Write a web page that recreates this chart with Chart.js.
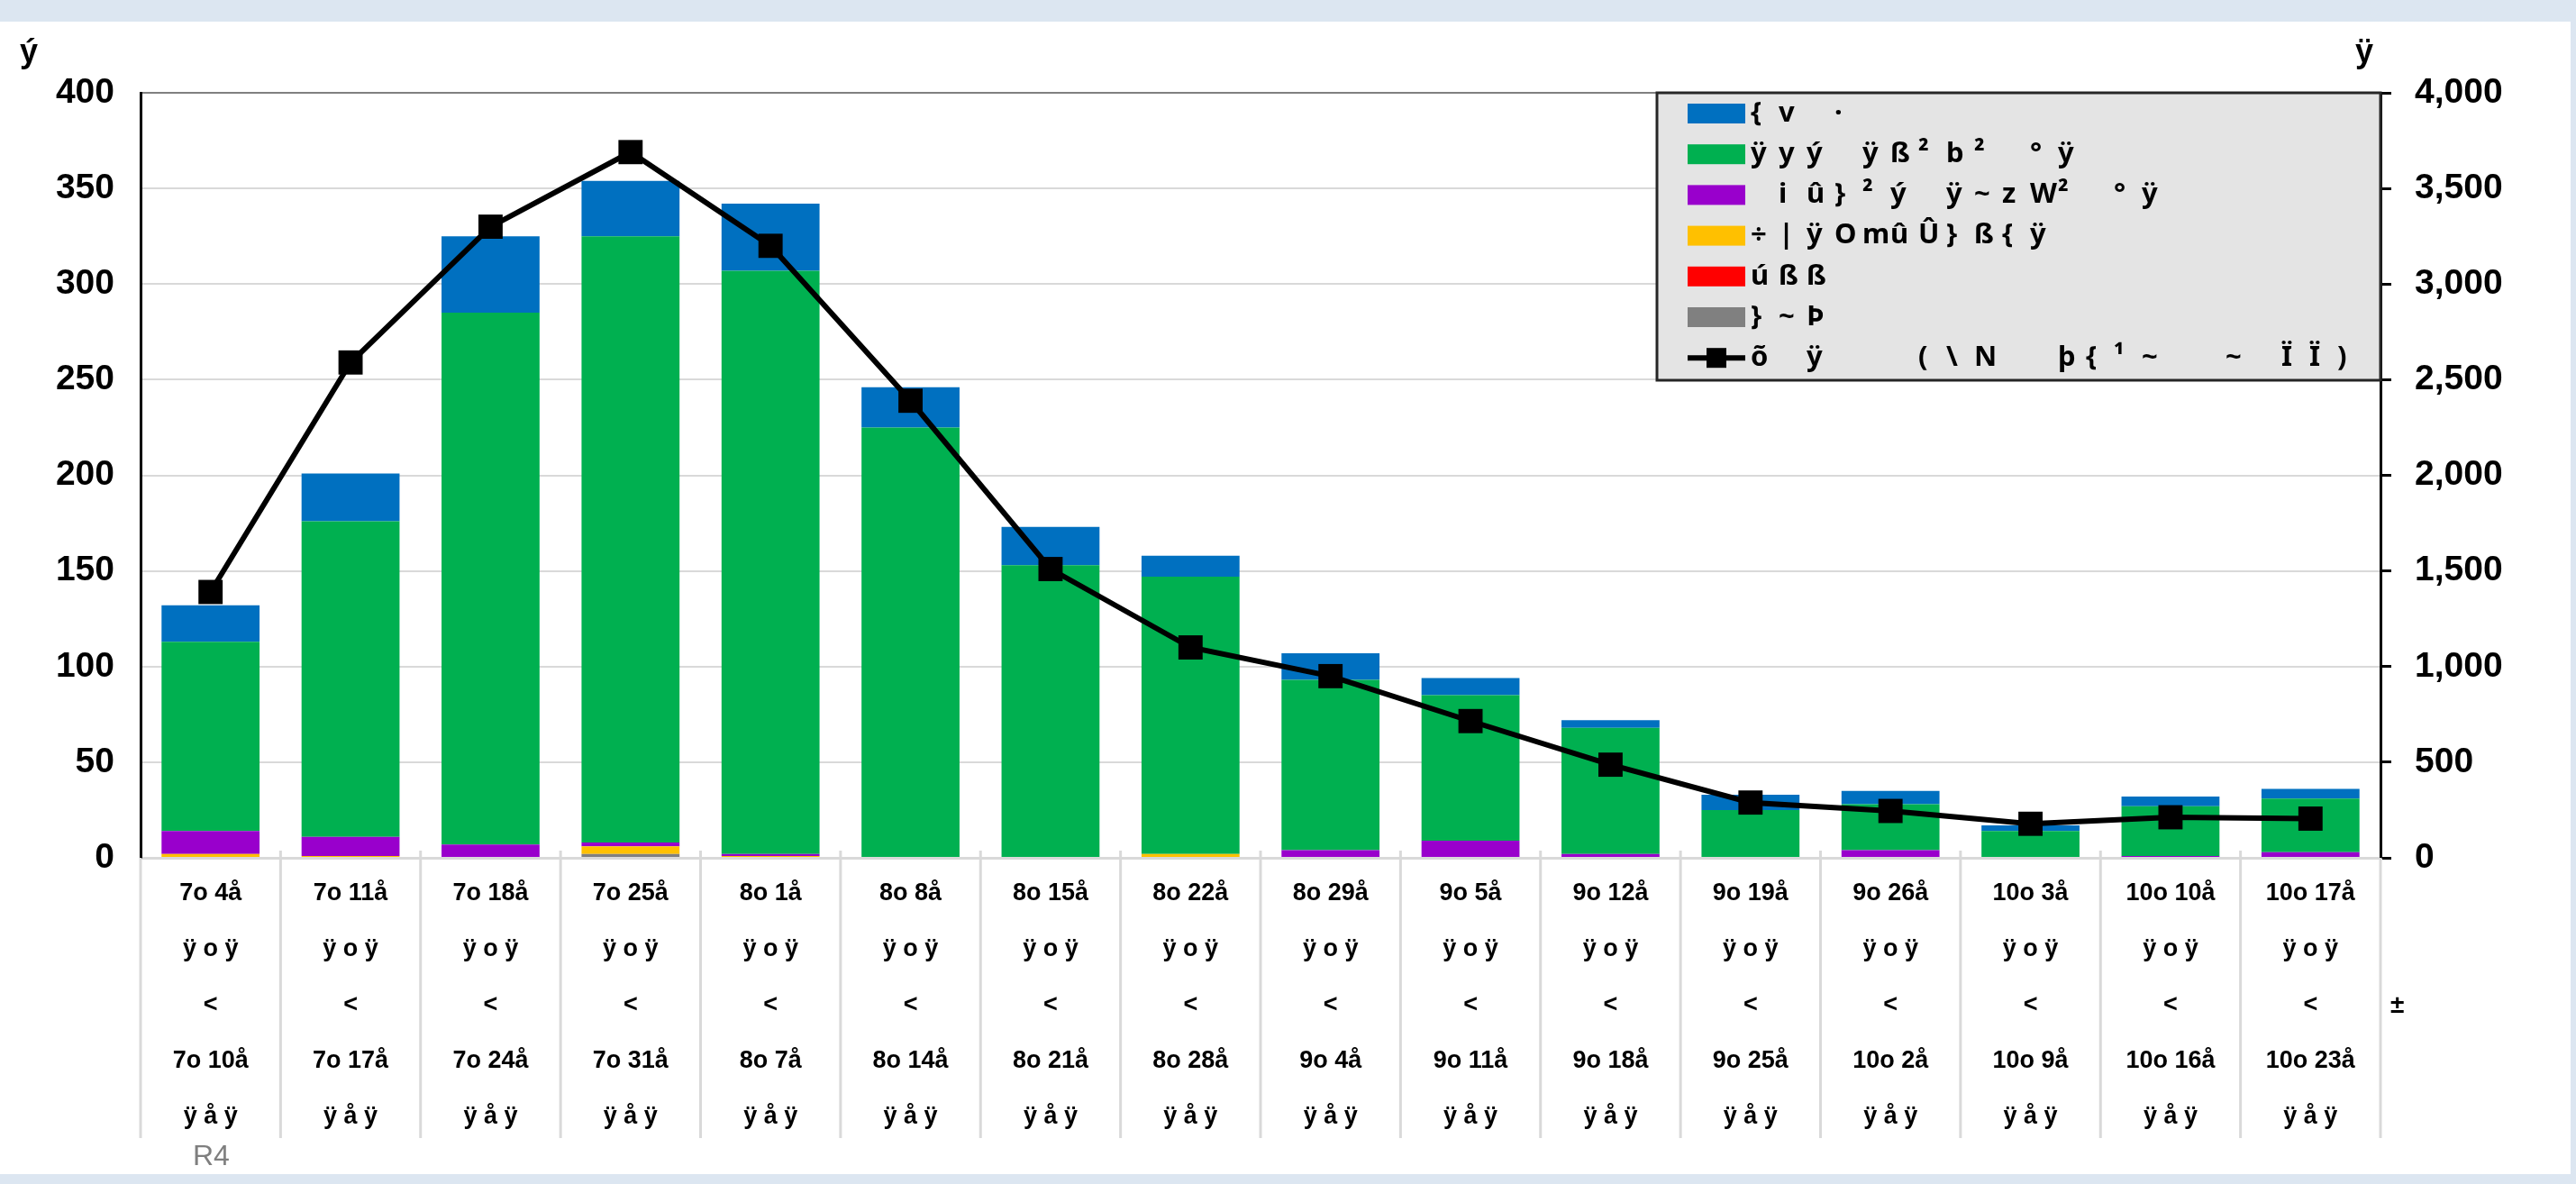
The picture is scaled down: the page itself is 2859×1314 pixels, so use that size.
<!DOCTYPE html>
<html>
<head>
<meta charset="utf-8">
<script src="https://cdn.jsdelivr.net/npm/chart.js@4.4.1/dist/chart.umd.min.js"></script>
<style>
  html, body { margin: 0; padding: 0; }
  body { width: 2859px; height: 1314px; background: #dce6f1; position: relative; overflow: hidden; }
  #panel { position: absolute; left: 0; top: 24px; width: 2853px; height: 1279px; background: #fff; }
</style>
</head>
<body>
<div id="panel"><canvas id="chart"></canvas></div>
<script>
// Categories (week start / week end)
const weekStart = ['7o 4å', '7o 11å', '7o 18å', '7o 25å', '8o 1å', '8o 8å', '8o 15å', '8o 22å',
                   '8o 29å', '9o 5å', '9o 12å', '9o 19å', '9o 26å', '10o 3å', '10o 10å', '10o 17å'];
const weekEnd = ['7o 10å', '7o 17å', '7o 24å', '7o 31å', '8o 7å', '8o 14å', '8o 21å', '8o 28å',
                 '9o 4å', '9o 11å', '9o 18å', '9o 25å', '10o 2å', '10o 9å', '10o 16å', '10o 23å'];

// Series names
const nameBlue = '{v ·';
const nameGreen = 'ÿyý ÿß²b² °ÿ';
const namePurple = ' iû}²ý ÿ~zW² °ÿ';
const nameYellow = '÷|ÿOmûÛ}ß{ÿ';
const nameRed = 'úßß';
const nameGray = '}~Þ';
const nameLine = 'õ ÿ   (\\N  þ{¹~  ~ ÏÏ)';

// Stacked bar values (left axis)
const grayVals   = [0, 0, 0, 2, 0, 0, 0, 0, 0, 0, 0, 0, 0, 0, 0, 0];
const redVals    = [0, 0, 0, 0, 0, 0, 0, 0, 0, 0, 0, 0, 0, 0, 0, 0];
const yellowVals = [2, 1, 0, 4, 1, 0, 0, 2, 0, 0, 0, 0, 0, 0, 0, 0];
const purpleVals = [12, 10, 7, 2, 1, 0, 0, 0, 4, 9, 2, 0, 4, 0, 1, 3];
const greenVals  = [99, 165, 278, 317, 305, 225, 153, 145, 89, 76, 66, 25, 24, 14, 26, 28];
const blueVals   = [19, 25, 40, 29, 35, 21, 20, 11, 14, 9, 4, 8, 7, 3, 5, 5];

// Line values (right axis)
const lineVals = [1390, 2590, 3300, 3690, 3200, 2390, 1510, 1100, 950, 715, 487, 289, 245, 178, 212, 205];

// Axis ranges
const leftMax = 400, leftStep = 50;
const rightMax = 4000, rightStep = 500;

const labels = weekStart.map((s, i) => [s, 'ÿ o ÿ', '<', weekEnd[i], 'ÿ å ÿ']);

function bar(label, data, color) {
    return { type: 'bar', label, data, backgroundColor: color, borderWidth: 0,
             stack: 'a', yAxisID: 'y', order: 1, barPercentage: 0.7, categoryPercentage: 1 };
}

const datasets = [
    bar(nameGray, grayVals, '#808080'),
    bar(nameRed, redVals, '#ff0000'),
    bar(nameYellow, yellowVals, '#ffc000'),
    bar(namePurple, purpleVals, '#9900cc'),
    bar(nameGreen, greenVals, '#00b050'),
    bar(nameBlue, blueVals, '#0070c0'),
    {
        type: 'line', label: nameLine, data: lineVals, yAxisID: 'y2', order: 0,
        borderColor: '#000', borderWidth: 6, tension: 0,
        pointStyle: 'rect', pointRadius: 19, pointBackgroundColor: '#000', pointBorderWidth: 0
    }
];

// Legend order, top to bottom
const legendOrder = [5, 4, 3, 2, 1, 0, 6];

const extras = {
    id: 'extras',
    afterDraw(chart) {
        const { ctx, chartArea: area, scales: { x } } = chart;
        ctx.save();

        // category dividers below the axis
        const p0 = x.getPixelForValue(0);
        const step = x.getPixelForValue(1) - p0;
        ctx.strokeStyle = '#d9d9d9';
        ctx.lineWidth = 3;
        for (let i = 0; i <= labels.length; i++) {
            const px = p0 - step / 2 + i * step;
            const top = (i === 0 || i === labels.length) ? area.bottom : area.bottom - 8;
            ctx.beginPath();
            ctx.moveTo(px, top);
            ctx.lineTo(px, area.bottom + 311);
            ctx.stroke();
        }

        // legend box inside plot, top right
        const lw = 803, lh = 319;
        const lx = area.right - lw, ly = area.top;
        ctx.fillStyle = '#e4e4e4';
        ctx.fillRect(lx, ly, lw, lh);
        ctx.strokeStyle = '#262626';
        ctx.lineWidth = 3;
        ctx.strokeRect(lx, ly, lw, lh);

        legendOrder.forEach((di, row) => {
            const ds = chart.data.datasets[di];
            const cy = ly + 23 + row * 45.2;
            const bx = lx + 34;
            if (ds.type === 'line') {
                ctx.strokeStyle = '#000';
                ctx.lineWidth = 6;
                ctx.beginPath();
                ctx.moveTo(bx, cy);
                ctx.lineTo(bx + 64, cy);
                ctx.stroke();
                ctx.fillStyle = '#000';
                ctx.fillRect(bx + 21, cy - 11, 22, 22);
            } else {
                ctx.fillStyle = ds.backgroundColor;
                ctx.fillRect(bx, cy - 11, 64, 22);
            }
            ctx.fillStyle = '#000';
            ctx.font = 'bold 31px "Noto Sans", sans-serif';
            ctx.textAlign = 'left';
            ctx.textBaseline = 'middle';
            [...ds.label].forEach((ch, k) => ctx.fillText(ch, bx + 70 + k * 31, cy));
        });

        // axis unit marks and notes
        ctx.fillStyle = '#000';
        ctx.textBaseline = 'alphabetic';
        ctx.font = 'bold 36px "Liberation Sans", Arial, sans-serif';
        ctx.fillText('ý', 22, 45);
        ctx.fillText('ÿ', 2614, 45);
        ctx.font = 'bold 28px "Liberation Sans", Arial, sans-serif';
        ctx.textBaseline = 'middle';
        ctx.fillText('±', 2653, 1092);
        ctx.fillStyle = '#7f7f7f';
        ctx.textBaseline = 'alphabetic';
        ctx.font = '32px "Liberation Sans Narrow", "Liberation Sans", sans-serif';
        ctx.fillText('R4', 214, 1269);
        ctx.restore();
    }
};

const tickFont = { family: '"Liberation Sans", Arial, sans-serif', size: 39, weight: 'bold' };

new Chart(document.getElementById('chart'), {
    data: { labels, datasets },
    options: {
        responsive: true,
        maintainAspectRatio: false,
        animation: false,
        layout: { padding: { top: 79, left: 0, right: 0, bottom: 0 } },
        plugins: { legend: { display: false }, tooltip: { enabled: false } },
        scales: {
            x: {
                stacked: true,
                afterFit: (s) => { s.height = 351; },
                grid: { display: true, drawOnChartArea: false, drawTicks: false },
                border: { color: '#d9d9d9', width: 3 },
                ticks: {
                    color: '#000', padding: 9, maxRotation: 0, autoSkip: false,
                    font: { family: '"Liberation Sans", Arial, sans-serif', size: 27, weight: 'bold', lineHeight: '62px' }
                }
            },
            y: {
                stacked: true,
                position: 'left',
                min: 0, max: leftMax,
                afterFit: (s) => { s.width = 156; },
                grid: {
                    drawTicks: false, lineWidth: 2,
                    color: (c) => (c.tick && c.tick.value === leftMax) ? '#808080' : '#d9d9d9'
                },
                border: { color: '#000', width: 3 },
                ticks: { stepSize: leftStep, padding: 29, color: '#000', font: tickFont }
            },
            y2: {
                position: 'right',
                min: 0, max: rightMax,
                afterFit: (s) => { s.width = 211; },
                grid: { drawOnChartArea: false, drawTicks: true, tickLength: 12, tickColor: '#000', tickWidth: 3 },
                border: { color: '#000', width: 3 },
                ticks: {
                    stepSize: rightStep, padding: 26, color: '#000', font: tickFont,
                    callback: (v) => v.toLocaleString('en-US')
                }
            }
        }
    },
    plugins: [extras]
});
</script>
</body>
</html>
